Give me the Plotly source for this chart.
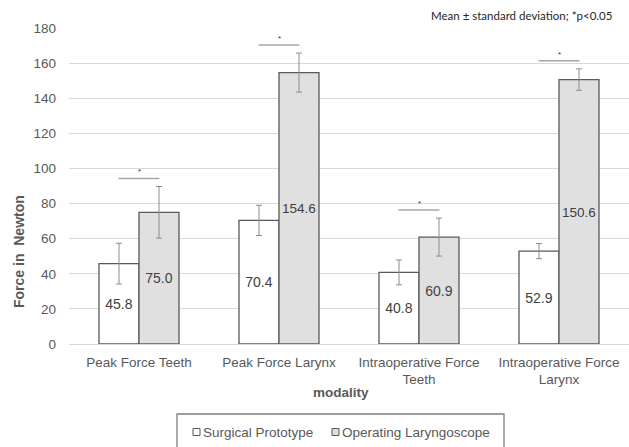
import plotly.graph_objects as go

categories = ["Peak Force Teeth", "Peak Force Larynx",
              "Intraoperative Force<br>Teeth", "Intraoperative Force<br>Larynx"]
series_names = ["Surgical Prototype", "Operating Laryngoscope"]
prototype_mean = [45.8, 70.4, 40.8, 52.9]
prototype_sd = [11.6, 8.6, 7.1, 4.3]
laryngoscope_mean = [75.0, 154.6, 60.9, 150.6]
laryngoscope_sd = [14.7, 11.1, 10.8, 6.1]
significant = [True, True, True, True]
y_ticks = [0, 20, 40, 60, 80, 100, 120, 140, 160, 180]
note_text = "Mean \u00b1 standard deviation; *p<0.05"
x_title = "modality"
y_title = "Force in  Newton"

TICK_COLOR = "#595959"
EDGE = "#5a5a5a"
ERR = "#8c8c8c"
FONT = "Liberation Sans, Arial, sans-serif"
FILLS = ["#ffffff", "#e0e0e0"]

# plot area geometry (pixels)
W, H = 629, 447
L, R, T, B = 69, 0, 28, 103
PW, PH = W - L - R, H - T - B


def px(x):
    return (x - L) / PW


def py(y):
    return (H - B - y) / PH


fig = go.Figure()
for name, mean, sd, fill in [(series_names[0], prototype_mean, prototype_sd, FILLS[0]),
                             (series_names[1], laryngoscope_mean, laryngoscope_sd, FILLS[1])]:
    fig.add_trace(go.Bar(
        name=name, x=categories, y=mean,
        marker=dict(color=fill, line=dict(color=EDGE, width=1.3)),
        error_y=dict(type="data", array=sd, color=ERR, thickness=1, width=3),
        text=[f"{v:.1f}" for v in mean], textposition="inside",
        insidetextanchor="middle", textangle=0,
        textfont=dict(size=14, color="#404040", family=FONT),
        showlegend=False,
    ))

shapes = []
annotations = []
for i, sig in enumerate(significant):
    if not sig:
        continue
    top = max(prototype_mean[i] + prototype_sd[i], laryngoscope_mean[i] + laryngoscope_sd[i])
    ly = top + 4.6
    shapes.append(dict(type="line", xref="x", yref="y", x0=i - 0.146, x1=i + 0.146,
                       y0=ly, y1=ly, line=dict(color="#a6a6a6", width=1.5)))
    annotations.append(dict(xref="x", yref="y", x=i, y=ly, yanchor="bottom",
                            text="*", showarrow=False,
                            font=dict(size=8, color="#333333", family=FONT)))

annotations.append(dict(xref="paper", yref="paper", x=px(614), y=py(15),
                        xanchor="right", yanchor="middle", text=note_text,
                        showarrow=False,
                        font=dict(size=11.5, color="#262626", family="Lato, Open Sans, sans-serif")))
annotations.append(dict(xref="paper", yref="paper", x=px(19), y=py(252),
                        xanchor="center", yanchor="middle", textangle=-90,
                        text=f"<b>{y_title}</b>", showarrow=False,
                        font=dict(size=14, color=TICK_COLOR, family=FONT)))
annotations.append(dict(xref="paper", yref="paper", x=px(341), y=py(392),
                        xanchor="center", yanchor="middle",
                        text=f"<b>{x_title}</b>", showarrow=False,
                        font=dict(size=13.5, color=TICK_COLOR, family=FONT)))

# manual legend
shapes.append(dict(type="rect", xref="paper", yref="paper",
                   x0=px(177), x1=px(504), y0=py(414), y1=py(452),
                   line=dict(color="#7f7f7f", width=1.3), fillcolor="rgba(0,0,0,0)"))
for name, fill, sx in [(series_names[0], FILLS[0], 193), (series_names[1], FILLS[1], 332)]:
    shapes.append(dict(type="rect", xref="paper", yref="paper",
                       x0=px(sx), x1=px(sx + 7), y0=py(428.5), y1=py(435.5),
                       line=dict(color="#595959", width=1), fillcolor=fill))
    annotations.append(dict(xref="paper", yref="paper", x=px(sx + 8), y=py(432),
                            xanchor="left", yanchor="middle", text=name, showarrow=False,
                            font=dict(size=13.5, color=TICK_COLOR, family=FONT)))

fig.update_layout(
    width=W, height=H,
    margin=dict(l=L, r=R, t=T, b=B, autoexpand=False),
    paper_bgcolor="white", plot_bgcolor="white",
    barmode="group", bargap=0.4286, bargroupgap=0,
    font=dict(family=FONT, color=TICK_COLOR, size=13.5),
    shapes=shapes, annotations=annotations,
    showlegend=False,
    xaxis=dict(showline=False, ticks="", tickfont=dict(size=13.5, color=TICK_COLOR),
               ticklabelstandoff=8, automargin=False),
    yaxis=dict(range=[0, 180], tickvals=y_ticks, gridcolor="#d9d9d9", gridwidth=1,
               zeroline=True, zerolinecolor="#d9d9d9", zerolinewidth=1,
               showline=False, ticks="", ticklabelstandoff=12, automargin=False,
               tickfont=dict(size=13.5, color=TICK_COLOR)),
)

fig.write_html("out.html", config={"displayModeBar": False},
               post_script="document.body.style.margin='0';document.body.style.padding='0';")
